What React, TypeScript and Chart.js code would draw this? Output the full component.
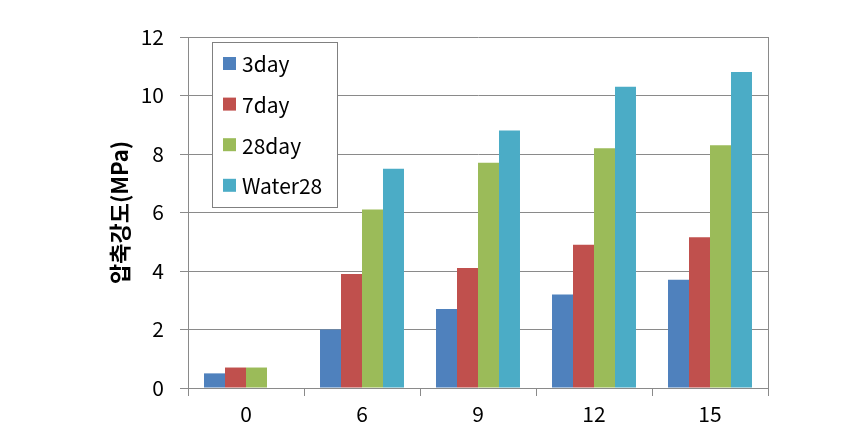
import React, { useEffect, useRef } from "react";
import { Chart, registerables } from "chart.js";

Chart.register(...registerables);

const categories = ["0", "6", "9", "12", "15"];
const seriesLabels = ["3day", "7day", "28day", "Water28"];
const day3 = [0.5, 2.0, 2.7, 3.2, 3.7];
const day7 = [0.7, 3.9, 4.1, 4.9, 5.15];
const day28 = [0.7, 6.1, 7.7, 8.2, 8.3];
const water28 = [null, 7.5, 8.8, 10.3, 10.8];
const seriesColors = ["#4F81BD", "#C0504D", "#9BBB59", "#4BACC6"];
const yTicks = [0, 2, 4, 6, 8, 10, 12];
const yTitle = "압축강도(MPa)";

const FONT = "'Noto Sans CJK KR', 'Noto Sans', sans-serif";
const GRID = "#8a8a8a";

const frameAndLegend = {
  id: "frameAndLegend",
  afterDraw(chart: any) {
    const { ctx, chartArea } = chart;
    ctx.save();
    ctx.strokeStyle = GRID;
    ctx.lineWidth = 1;
    ctx.beginPath();
    ctx.moveTo(Math.round(chartArea.right) + 0.5, chartArea.top);
    ctx.lineTo(Math.round(chartArea.right) + 0.5, chartArea.bottom);
    ctx.stroke();
    const lx = chartArea.left + 24;
    const ly = chartArea.top + 5;
    const lw = 125;
    const lh = 165;
    ctx.fillStyle = "#ffffff";
    ctx.fillRect(lx, ly, lw, lh);
    ctx.strokeStyle = "#808080";
    ctx.strokeRect(Math.round(lx) + 0.5, Math.round(ly) + 0.5, lw, lh);
    ctx.font = `21px ${FONT}`;
    ctx.textBaseline = "middle";
    ctx.textAlign = "left";
    chart.data.datasets.forEach((ds: any, i: number) => {
      const cy = ly + 21.5 + i * 40.6;
      ctx.fillStyle = ds.backgroundColor;
      ctx.fillRect(lx + 11, cy - 6.5, 13, 13);
      ctx.fillStyle = "#000000";
      ctx.fillText(ds.label, lx + 30, cy + 1);
    });
    ctx.restore();
  },
};

export default function App() {
  const ref = useRef<HTMLCanvasElement | null>(null);
  useEffect(() => {
    document.body.style.margin = "0";
    const series = [day3, day7, day28, water28];
    const chart = new Chart(ref.current as HTMLCanvasElement, {
      type: "bar",
      data: {
        labels: categories,
        datasets: series.map((d, i) => ({
          label: seriesLabels[i],
          data: d as any,
          backgroundColor: seriesColors[i],
          borderWidth: 0,
          barPercentage: 1,
          categoryPercentage: 0.724,
        })),
      },
      options: {
        animation: false,
        responsive: false,
        maintainAspectRatio: false,
        layout: { padding: { left: 106, right: 100, top: 37, bottom: 0 } },
        plugins: { legend: { display: false }, tooltip: { enabled: false } },
        scales: {
          x: {
            afterFit: (s: any) => {
              s.height = 55;
            },
            grid: {
              offset: true,
              drawOnChartArea: false,
              drawTicks: true,
              tickLength: 8,
              color: GRID,
            },
            border: { color: GRID },
            ticks: { color: "#000", font: { family: FONT, size: 21 }, padding: 5 },
          },
          y: {
            min: 0,
            max: 12,
            afterFit: (s: any) => {
              s.width = 82;
            },
            afterBuildTicks: (s: any) => {
              s.ticks = yTicks.map((v) => ({ value: v }));
            },
            grid: { color: GRID, tickLength: 8 },
            border: { color: GRID },
            ticks: { color: "#000", font: { family: FONT, size: 21 }, padding: 16 },
            title: {
              display: true,
              text: yTitle,
              color: "#000",
              font: { family: FONT, size: 22, weight: "bold" },
              padding: { top: 0, bottom: 0 },
            },
          },
        },
      },
      plugins: [frameAndLegend],
    });
    return () => chart.destroy();
  }, []);
  return <canvas ref={ref} width={868} height={443} style={{ display: "block" }} />;
}
